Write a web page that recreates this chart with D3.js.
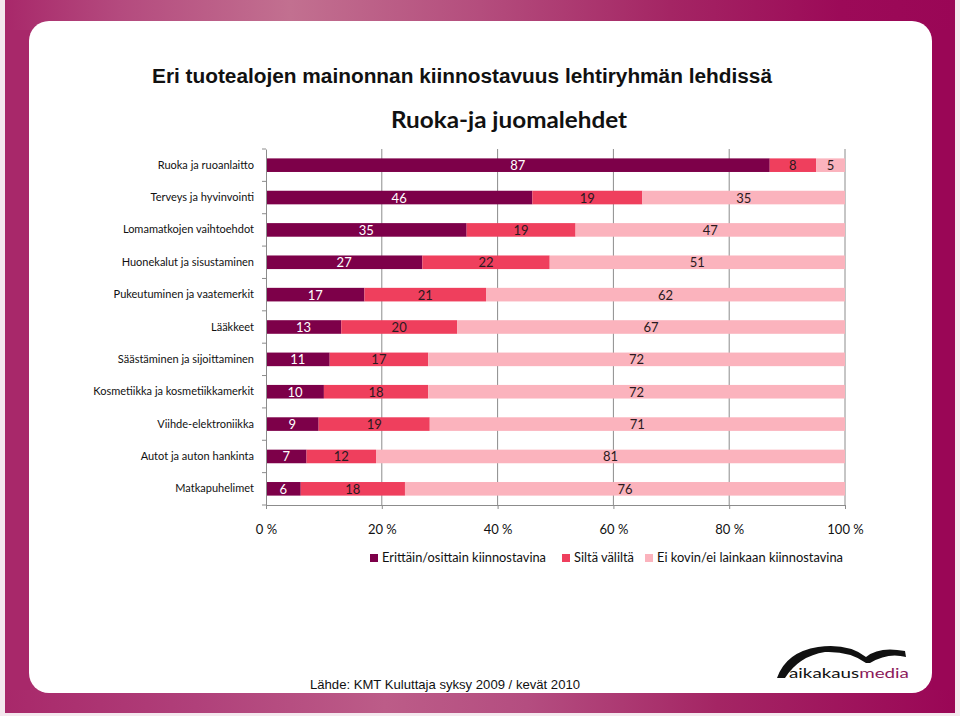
<!DOCTYPE html>
<html><head><meta charset="utf-8">
<script src="https://cdn.jsdelivr.net/npm/d3@7"></script>
<style>html,body{margin:0;padding:0;background:#f4e8ee;}svg{display:block;}</style>
</head><body>
<svg id="chart" width="960" height="716"></svg>
<script>
const categories = ["Ruoka ja ruoanlaitto","Terveys ja hyvinvointi","Lomamatkojen vaihtoehdot","Huonekalut ja sisustaminen","Pukeutuminen ja vaatemerkit","Lääkkeet","Säästäminen ja sijoittaminen","Kosmetiikka ja kosmetiikkamerkit","Viihde-elektroniikka","Autot ja auton hankinta","Matkapuhelimet"];
const seriesNames = ["Erittäin/osittain  kiinnostavina","Siltä väliltä","Ei kovin/ei lainkaan kiinnostavina"];
const interested = [87,46,35,27,17,13,11,10,9,7,6];
const neutral    = [8,19,19,22,21,20,17,18,19,12,18];
const notInterested = [5,35,47,51,62,67,72,72,71,81,76];
const tickValues = [0,0.2,0.4,0.6,0.8,1];
const tickLabels = ["0 %","20 %","40 %","60 %","80 %","100 %"];
const colors = ["#7d0049","#ef3f5d","#fbb3bd"];
const labelColors = ["#ffffff","#2a1a20","#2a1a20"];
const FONT = "Lato,'Open Sans',sans-serif";

const svg = d3.select("#chart");
const defs = svg.append("defs");
const g1 = defs.append("linearGradient").attr("id","bg").attr("x1","0").attr("x2","1").attr("y1","0").attr("y2","0");
[[0,"#a8286a"],[0.12,"#b44a7e"],[0.3,"#c27090"],[0.5,"#b44d7d"],[0.7,"#a42564"],[0.88,"#9c0a58"],[1,"#9a0656"]].forEach(s=>g1.append("stop").attr("offset",s[0]).attr("stop-color",s[1]));
const g2 = defs.append("linearGradient").attr("id","bg2").attr("x1","0").attr("x2","1").attr("y1","0").attr("y2","0");
[[0,"#a8286a"],[0.2,"#b0407a"],[0.4,"#bc5c88"],[0.55,"#b44d80"],[0.75,"#a42564"],[1,"#9a0656"]].forEach(s=>g2.append("stop").attr("offset",s[0]).attr("stop-color",s[1]));

svg.append("rect").attr("x",5).attr("y",0).attr("width",950).attr("height",713).attr("fill","url(#bg)");
svg.append("rect").attr("x",5).attr("y",690).attr("width",950).attr("height",23).attr("fill","url(#bg2)");
svg.append("rect").attr("x",5).attr("y",30).attr("width",25).attr("height",660).attr("fill","#a8286a");
svg.append("rect").attr("x",932).attr("y",30).attr("width",23).attr("height",660).attr("fill","#9a0656");
svg.append("rect").attr("x",29).attr("y",21).attr("width",903).attr("height",672).attr("rx",20).attr("ry",20).attr("fill","#ffffff");

// Titles
svg.append("text").attr("x",152).attr("y",83).attr("font-family","'Liberation Sans',Arial,sans-serif")
  .attr("font-weight","bold").attr("font-size",20).attr("fill","#111").attr("textLength",620).attr("lengthAdjust","spacingAndGlyphs")
  .text("Eri tuotealojen mainonnan kiinnostavuus lehtiryhmän lehdissä");
svg.append("text").attr("x",509).attr("y",128).attr("text-anchor","middle").attr("font-family",FONT)
  .attr("font-weight","bold").attr("font-size",22).attr("fill","#111").attr("textLength",236).attr("lengthAdjust","spacingAndGlyphs")
  .text("Ruoka-ja juomalehdet");

const x = d3.scaleLinear().domain([0,1]).range([266,845]);
const y = d3.scaleBand().domain(categories).range([149,505]).paddingInner(0.58).paddingOuter(0.29);

// gridlines
svg.append("g").selectAll("line").data(tickValues.slice(1)).join("line")
  .attr("x1",d=>x(d)).attr("x2",d=>x(d)).attr("y1",149).attr("y2",505)
  .attr("stroke","#8c8c8c").attr("stroke-width",1);

const stackData = categories.map((c,i)=>({cat:c, a:interested[i], b:neutral[i], c2:notInterested[i]}));
const keys = ["a","b","c2"];
const stack = d3.stack().keys(keys).offset(d3.stackOffsetExpand)(stackData);

const gBars = svg.append("g");
stack.forEach((layer,li)=>{
  gBars.append("g").selectAll("rect").data(layer).join("rect")
    .attr("x",d=>x(d[0])).attr("width",d=>x(d[1])-x(d[0]))
    .attr("y",d=>y(d.data.cat)).attr("height",y.bandwidth())
    .attr("fill",colors[li]);
  gBars.append("g").selectAll("text").data(layer).join("text")
    .attr("x",d=>(x(d[0])+x(d[1]))/2).attr("y",d=>y(d.data.cat)+y.bandwidth()/2+5)
    .attr("text-anchor","middle").attr("font-family",FONT)
    .attr("font-size",13).attr("fill",labelColors[li])
    .text(d=>d.data[keys[li]]);
});

// Y axis
const yAxis = d3.axisLeft(y).tickSize(0).tickPadding(12);
const ya = svg.append("g").attr("transform","translate(266,0)").call(yAxis);
ya.select(".domain").attr("stroke","#8c8c8c");
ya.selectAll("text").attr("font-family",FONT).attr("font-size",11).attr("fill","#111");
svg.append("g").selectAll("line").data(d3.range(categories.length+1)).join("line")
  .attr("x1",262).attr("x2",266)
  .attr("y1",i=>149+i*y.step()).attr("y2",i=>149+i*y.step())
  .attr("stroke","#8c8c8c");

// X axis
const xAxis = d3.axisBottom(x).tickValues(tickValues).tickSize(4).tickPadding(16).tickFormat((d,i)=>tickLabels[i]);
const xa = svg.append("g").attr("transform","translate(0,505)").call(xAxis);
xa.select(".domain").attr("stroke","#8c8c8c");
xa.selectAll(".tick line").attr("stroke","#8c8c8c");
xa.selectAll("text").attr("font-family",FONT).attr("font-size",13).attr("fill","#111");

// Legend
const legX = [370,562,645];
const lg = svg.append("g").selectAll("g").data(seriesNames).join("g").attr("transform",(d,i)=>`translate(${legX[i]},562)`);
lg.append("rect").attr("x",0).attr("y",-8).attr("width",8).attr("height",8).attr("fill",(d,i)=>colors[i]);
lg.append("text").attr("x",12).attr("y",0).attr("font-family",FONT).attr("font-size",12.5).attr("fill","#111")
  .attr("textLength",(d,i)=>[164,60,186][i]).attr("lengthAdjust","spacingAndGlyphs").text(d=>d);

// Source
svg.append("text").attr("x",445).attr("y",689).attr("text-anchor","middle").attr("font-family","'Liberation Sans',Arial,sans-serif")
  .attr("font-size",13).attr("fill","#111").attr("textLength",270).attr("lengthAdjust","spacingAndGlyphs")
  .text("Lähde: KMT Kuluttaja syksy 2009 / kevät 2010");

// Logo
svg.append("path").attr("d","M777,678 Q786,652 818,647 Q848,643 866,657 Q879,646 905,651 L906,657 Q888,652 870,663 L866,663 Q850,651 825,652 Q799,656 785,678 Z").attr("fill","#111");
const lt = svg.append("text").attr("x",789).attr("y",678).attr("font-family",FONT).attr("font-size",14)
  .attr("textLength",120).attr("lengthAdjust","spacingAndGlyphs");
lt.append("tspan").attr("fill","#111").text("aikakaus");
lt.append("tspan").attr("fill","#8b1a5a").text("media");
</script>
</body></html>
